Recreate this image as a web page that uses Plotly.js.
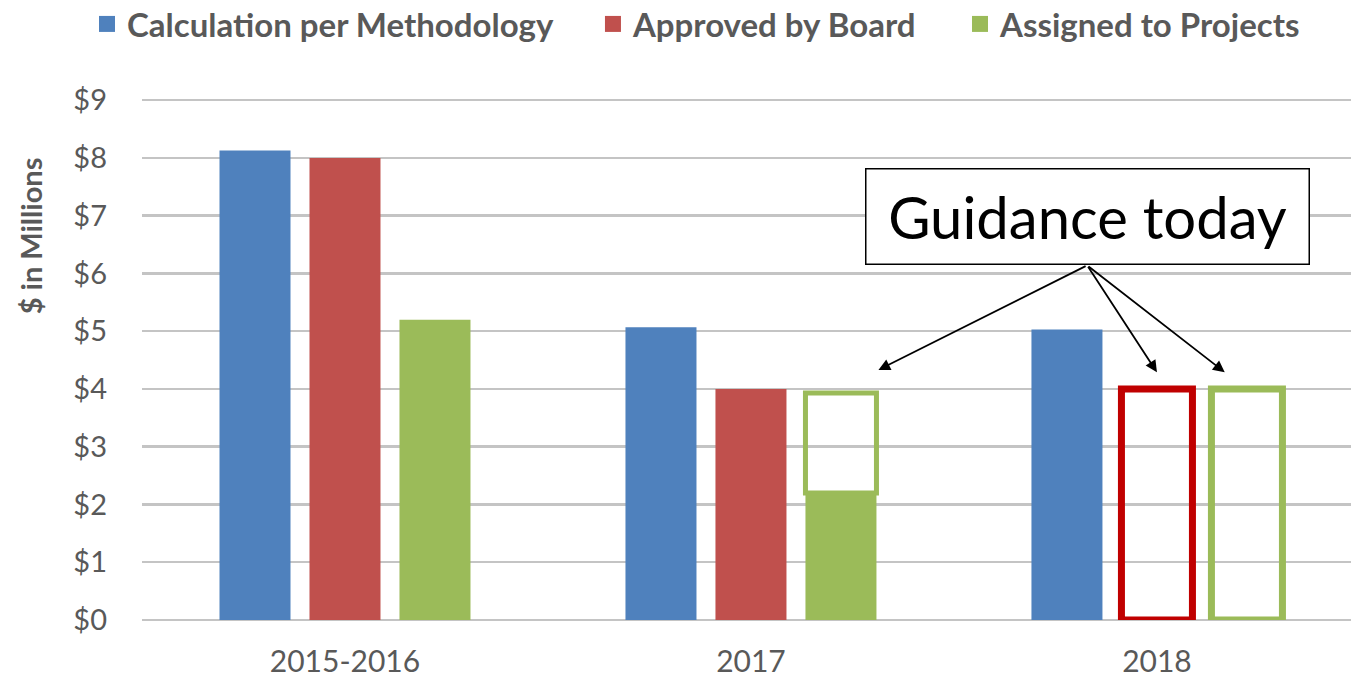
<!DOCTYPE html>
<html>
<head>
<meta charset="utf-8">
<script src="https://cdn.plot.ly/plotly-3.0.1.min.js"></script>
<style>html,body{margin:0;padding:0;background:#fff;}#chart{width:1351px;height:679px;}</style>
</head>
<body>
<div id="chart"></div>
<script>
const categories = ['2015-2016', '2017', '2018'];
const seriesNames = ['Calculation per Methodology', 'Approved by Board', 'Assigned to Projects'];
const calcValues = [8.13, 5.07, 5.03];
const approvedValues = [8.0, 4.0, null];
const assignedValues = [5.2, 2.2, null];
// "Guidance today" outlined bars
const approvedGuidanceTop = [null, null, 4.0];
const assignedGuidanceBase = [null, 2.2, 0];
const assignedGuidanceTop = [null, 3.93, 4.0];
const yTicks = [0, 1, 2, 3, 4, 5, 6, 7, 8, 9];
const yTickText = yTicks.map(v => '$' + v);
const yTitle = '$ in Millions';
const annotationText = 'Guidance today';

const colors = {blue: '#4F81BD', red: '#C0504D', green: '#9BBB59', darkRed: '#C00000'};
const seriesColors = [colors.blue, colors.red, colors.green];
const font = 'Lato, Carlito, Calibri, sans-serif';

const traces = [
  {type: 'bar', name: seriesNames[0], x: categories, y: calcValues, offsetgroup: '1', showlegend: false,
   marker: {color: colors.blue}, hoverinfo: 'skip'},
  {type: 'bar', name: seriesNames[1], x: categories, y: approvedValues, offsetgroup: '2', showlegend: false,
   marker: {color: colors.red}, hoverinfo: 'skip'},
  {type: 'bar', name: seriesNames[2], x: categories, y: assignedValues, offsetgroup: '3', showlegend: false,
   marker: {color: colors.green}, hoverinfo: 'skip'},
  {type: 'bar', showlegend: false, x: categories, y: approvedGuidanceTop, offsetgroup: '2',
   marker: {color: 'rgba(0,0,0,0)', line: {color: colors.darkRed, width: 7}}, hoverinfo: 'skip'},
  {type: 'bar', showlegend: false, x: categories,
   base: assignedGuidanceBase,
   y: assignedGuidanceTop.map((t, i) => t === null ? null : t - assignedGuidanceBase[i]),
   offsetgroup: '3',
   marker: {color: 'rgba(0,0,0,0)', line: {color: colors.green, width: [0, 5, 7]}}, hoverinfo: 'skip'}
];
// legend entries (square swatches), one legend box per series
const legendIds = ['legend', 'legend2', 'legend3'];
seriesNames.forEach((name, i) => {
  traces.push({type: 'scatter', mode: 'markers', name: name, x: [null], y: [null],
    legend: legendIds[i], showlegend: true, hoverinfo: 'skip',
    marker: {symbol: 'square', size: 16, color: seriesColors[i]}});
});

// Annotation geometry (box + arrows) in data coordinates
const tail = {x: 1.828, y: 6.14};
const heads = [{x: 1.314, y: 4.33}, {x: 2.0, y: 4.29}, {x: 2.167, y: 4.29}];

const annotations = [
  {x: tail.x, y: 6.99, xref: 'x', yref: 'y', text: annotationText, showarrow: false,
   font: {family: font, size: 58, color: '#000'}, bordercolor: '#000', borderwidth: 1.5,
   bgcolor: '#fff', width: 440, height: 92, borderpad: 1},
  {x: -0.0926, y: 0.7365, xref: 'paper', yref: 'paper', xanchor: 'center', yanchor: 'middle',
   text: yTitle, showarrow: false,
   textangle: -90, font: {family: font, size: 29, color: '#595959', weight: 'bold'}}
].concat(heads.map(h => ({
  x: h.x, y: h.y, xref: 'x', yref: 'y', ax: tail.x, ay: tail.y, axref: 'x', ayref: 'y',
  text: '', showarrow: true, arrowhead: 2, arrowsize: 1.3, arrowwidth: 1.8, arrowcolor: '#000',
  standoff: 0, startstandoff: 0
})));

const legendBase = {orientation: 'h', xanchor: 'left', y: 1.144, yanchor: 'middle', itemsizing: 'trace',
  font: {family: font, size: 33, color: '#595959', weight: 'bold'}, bgcolor: 'rgba(0,0,0,0)'};

const layout = {
  width: 1351, height: 679,
  margin: {l: 142, r: 0, t: 99, b: 59, autoexpand: false},
  paper_bgcolor: '#fff', plot_bgcolor: '#fff',
  barmode: 'group', bargap: 0.335, bargroupgap: 0.211,
  font: {family: font, color: '#595959'},
  showlegend: true,
  legend: Object.assign({}, legendBase, {x: -0.0455}),
  legend2: Object.assign({}, legendBase, {x: 0.3730}),
  legend3: Object.assign({}, legendBase, {x: 0.6766}),
  xaxis: {type: 'category', range: [-0.5, 2.478], showgrid: false, zeroline: false, showline: false,
          ticks: '', tickfont: {family: font, size: 30, color: '#595959'}, ticklabelstandoff: 21,
          fixedrange: true},
  yaxis: {range: [0, 9.02], tickmode: 'array', tickvals: yTicks, ticktext: yTickText,
          showgrid: true, gridcolor: '#C4C4C4',
          gridwidth: 2.5, zeroline: true, zerolinecolor: '#C4C4C4', zerolinewidth: 2.5,
          showline: false, ticks: '', tickfont: {family: font, size: 29, color: '#595959'},
          ticklabelstandoff: 34, fixedrange: true},
  annotations: annotations
};

Plotly.newPlot('chart', traces, layout, {displayModeBar: false, staticPlot: true});
</script>
</body>
</html>
